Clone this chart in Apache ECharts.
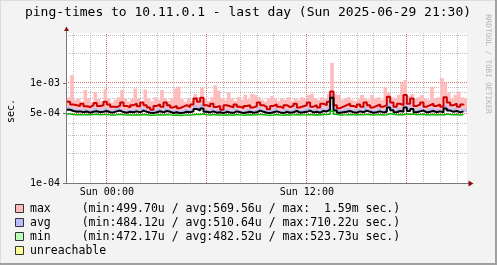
<!DOCTYPE html>
<html><head><meta charset="utf-8">
<script src="https://cdn.jsdelivr.net/npm/echarts@6/dist/echarts.min.js"></script>
<style>html,body{margin:0;padding:0;background:#f3f3f3}#c{width:497px;height:265px}</style>
</head><body><div id="c"></div><script>
const title = 'ping-times to 10.11.0.1 - last day (Sun 2025-06-29 21:30)';
const yAxisName = 'sec.';
const watermark = 'RRDTOOL / TOBI OETIKER';
// time of first sample (hours relative to Sun 00:00) and sample step (hours)
const startHour = -2.4;
const stepHours = 0.2;
// values in microseconds
const maxPeak = [
720,1200,680,700,650,850,700,640,810,690,
660,870,700,640,680,720,850,700,650,690,
880,700,650,860,700,660,720,680,850,700,
660,700,880,920,690,650,700,660,780,720,
900,700,660,720,950,840,700,680,800,700,
660,720,680,760,690,780,760,720,680,650,
700,740,690,660,700,680,720,660,700,680,
720,690,760,780,700,680,720,700,780,1590,
780,760,680,700,720,680,660,700,760,700,
680,760,700,720,680,910,800,720,700,760,
1000,1070,740,780,700,720,760,700,680,920,
700,720,1120,1000,800,700,760,820,720,700];
const maxLine = [
650,610,600,590,620,585,575,600,630,590,
600,650,610,580,575,595,640,590,570,600,
620,585,640,600,570,540,590,610,580,640,
600,570,590,560,580,600,575,610,700,650,
710,600,580,620,575,590,540,600,585,570,
610,580,560,590,600,570,585,640,600,575,
545,590,610,580,560,600,575,590,620,570,
585,600,640,580,600,570,620,600,650,820,
600,560,580,600,620,590,570,610,580,640,
600,570,590,610,580,600,730,640,580,620,
600,760,620,700,590,610,640,580,600,620,
590,610,580,720,640,600,620,580,610,600];
const avgHigh = [
580,560,550,555,540,550,535,545,565,540,
545,565,540,535,550,570,545,530,545,540,
555,535,570,550,530,525,540,560,535,565,
550,530,540,525,535,550,540,555,600,575,
620,550,535,560,535,545,525,550,535,530,
555,540,525,535,550,535,540,570,550,535,
530,540,560,535,525,550,535,540,565,535,
540,550,570,535,550,535,565,555,590,780,
570,535,540,550,565,540,535,555,540,575,
550,535,540,560,535,550,640,580,540,565,
550,640,565,600,540,555,570,535,550,565,
540,555,535,610,570,550,565,535,555,550];
const avgLine = [
540,525,515,520,510,518,505,515,522,510,
515,525,510,508,520,530,512,505,515,510,
520,508,530,515,505,500,510,522,508,525,
515,502,510,498,505,515,510,520,550,530,
555,515,508,520,505,510,500,515,508,502,
520,510,500,508,515,505,510,530,515,505,
500,510,520,508,500,515,505,510,525,505,
510,515,530,508,515,505,525,520,540,710,
530,505,510,515,525,510,505,520,510,530,
515,505,510,520,508,515,570,535,510,525,
515,570,525,550,510,520,530,508,515,525,
510,520,508,555,530,515,525,508,520,515];
const minLine = [
490,485,482,484,480,483,481,484,486,482,
483,485,480,479,482,486,481,478,480,479,
482,478,484,481,477,475,478,482,479,484,
480,476,479,474,477,480,478,482,488,485,
490,482,479,484,478,480,476,481,479,477,
483,480,476,479,482,478,480,486,482,478,
476,479,483,479,476,481,478,480,484,478,
480,482,485,479,482,478,484,483,488,523,
486,479,480,482,485,481,478,483,480,486,
482,478,480,484,479,482,495,487,480,485,
481,492,485,490,480,483,486,479,482,485,
479,483,478,490,485,481,484,478,483,480];
const yLabelTicks = [1e-4, 5e-4, 1e-3];
const yMinorGrid = [2e-4, 3e-4, 4e-4, 6e-4, 7e-4, 8e-4, 9e-4, 2e-3, 3e-3];
const yMajorGrid = [5e-4, 1e-3];
const xMinorGrid = [-2,-1,1,2,3,4,5,7,8,9,10,11,13,14,15,16,17,19,20,21];
const xMajorGrid = [0, 6, 12, 18];
const xLabelTicks = [0, 12];
const xLabelTexts = ['Sun 00:00', 'Sun 12:00'];
const legendNames = ['max', 'avg', 'min', 'unreachable'];
const legendStats = [
  '(min:499.70u / avg:569.56u / max:  1.59m sec.)',
  '(min:484.12u / avg:510.64u / max:710.22u sec.)',
  '(min:472.17u / avg:482.52u / max:523.73u sec.)',
  ''];

const legendColors = ['#ffbaba', '#babaff', '#baffba', '#ffff99'];
const US = 1e-6;
const tAt = (i) => startHour + i * stepHours;
const pts = (arr) => arr.map((v, i) => [tAt(i), v * US]);
const band = (lo, hi) => lo.map((v, i) => [tAt(i), v * US, hi[i] * US]);
const yFmt = (v) => {
  const e = Math.floor(Math.log10(v) + 1e-9);
  const m = Math.round(v / Math.pow(10, e));
  return m + 'e' + (e < 0 ? '-' : '+') + String(Math.abs(e)).padStart(2, '0');
};
const MONO = '"DejaVu Sans Mono", monospace';
const yMin = 1e-4, yMax = Math.pow(10, -2.5);
const xMin = -2.45, xMax = 21.61;
const grid = {left: 66, top: 33, width: 401, height: 150};
const MINOR = '#bcbcbc', MAJOR = '#e07070';

const chart = echarts.init(document.getElementById('c'), null, {renderer: 'canvas'});

const graphics = [
  {type: 'rect', shape: {x: 0, y: 0, width: 497, height: 1}, style: {fill: '#dcdcdc'}, silent: true},
  {type: 'rect', shape: {x: 0, y: 0, width: 1, height: 265}, style: {fill: '#dcdcdc'}, silent: true},
  {type: 'rect', shape: {x: 495, y: 0, width: 2, height: 265}, style: {fill: '#a0a0a0'}, silent: true},
  {type: 'rect', shape: {x: 0, y: 263, width: 497, height: 2}, style: {fill: '#a0a0a0'}, silent: true},
  {type: 'text', x: 248, y: 13, style: {text: title, font: '13px ' + MONO, fill: '#000', align: 'center', verticalAlign: 'middle'}},
  {type: 'text', x: 11, y: 111, rotation: Math.PI / 2, style: {text: yAxisName, font: '10px ' + MONO, fill: '#000', align: 'center', verticalAlign: 'middle'}},
  {type: 'text', x: 488, y: 64, rotation: -Math.PI / 2, style: {text: watermark, font: '7.5px ' + MONO, fill: '#b4b4b4', align: 'center', verticalAlign: 'middle'}},
  // axis arrows
  {type: 'line', shape: {x1: 66.5, y1: 33, x2: 66.5, y2: 30}, style: {stroke: '#777', lineWidth: 1}},
  {type: 'polygon', shape: {points: [[64, 31], [66.5, 26.5], [69, 31]]}, style: {fill: '#8b1010'}},
  {type: 'line', shape: {x1: 467, y1: 183.5, x2: 469, y2: 183.5}, style: {stroke: '#777', lineWidth: 1}},
  {type: 'polygon', shape: {points: [[468.5, 180.5], [473.5, 183.5], [468.5, 186.5]]}, style: {fill: '#8b1010'}}
];
legendNames.forEach((name, i) => {
  const cy = 209 + i * 14;
  graphics.push({type: 'rect', shape: {x: 15.5, y: cy - 4.5, width: 8, height: 8}, style: {fill: legendColors[i], stroke: '#333', lineWidth: 1}});
  graphics.push({type: 'text', x: 30, y: cy, style: {text: name, font: '11.5px ' + MONO, fill: '#000', align: 'left', verticalAlign: 'middle'}});
  if (legendStats[i]) graphics.push({type: 'text', x: 81.7, y: cy, style: {text: legendStats[i], font: '11.5px ' + MONO, fill: '#000', align: 'left', verticalAlign: 'middle'}});
});

// major grid lines drawn through the axes' own scales
const majorGridData = xMajorGrid.map((v) => [0, v]).concat(yMajorGrid.map((v) => [1, v]));
const majorGridSeries = {
  type: 'custom', name: 'major grid', data: majorGridData, silent: true, clip: true,
  encode: {x: [], y: []},
  renderItem: (params, api) => {
    const kind = api.value(0), v = api.value(1);
    let a, b;
    if (kind === 0) { a = api.coord([v, yMin]); b = api.coord([v, yMax]); }
    else { a = api.coord([xMin, v]); b = api.coord([xMax, v]); }
    const x1 = Math.round(a[0] - 0.5) + 0.5, x2 = Math.round(b[0] - 0.5) + 0.5;
    const y1 = Math.round(a[1] - 0.5) + 0.5, y2 = Math.round(b[1] - 0.5) + 0.5;
    return {type: 'line',
      shape: kind === 0 ? {x1: x1, y1: a[1], x2: x1, y2: b[1]} : {x1: a[0], y1: y1, x2: b[0], y2: y1},
      style: {stroke: MAJOR, lineWidth: 1, lineDash: [1, 1], fill: null}};
  }
};

const bandSeries = (name, data, color) => ({
  type: 'custom', name, data, silent: true, clip: true,
  encode: {x: 0, y: [1, 2]},
  renderItem: (params, api) => {
    const t = api.value(0), lo = api.value(1), hi = api.value(2);
    const a = api.coord([t, hi]);
    const b = api.coord([t + stepHours, lo]);
    return {type: 'rect', shape: {x: a[0], y: a[1], width: b[0] - a[0] + 0.3, height: b[1] - a[1]},
      style: {fill: color}};
  }
});
const lineBase = {type: 'line', step: 'end', showSymbol: false, symbol: 'none', silent: true, emphasis: {disabled: true}};

chart.setOption({
  animation: false,
  backgroundColor: '#f3f3f3',
  grid: Object.assign({show: true, backgroundColor: '#ffffff', borderWidth: 0}, grid),
  graphic: graphics,
  xAxis: [
    {type: 'value', min: xMin, max: xMax, position: 'bottom',
     axisLine: {show: true, onZero: false, lineStyle: {color: '#777', width: 1}},
     axisTick: {show: false, customValues: xMinorGrid},
     splitLine: {show: true, lineStyle: {color: MINOR, width: 1, type: [1, 1]}},
     axisLabel: {show: false}},
    {type: 'value', min: xMin, max: xMax, position: 'bottom',
     axisLine: {show: false}, axisTick: {show: false, customValues: xLabelTicks},
     splitLine: {show: false},
     axisLabel: {show: true, customValues: xLabelTicks, margin: 4,
       formatter: (v) => xLabelTexts[xLabelTicks.indexOf(Math.round(v))] || '',
       fontFamily: 'DejaVu Sans Mono', fontSize: 10, color: '#000'}}
  ],
  yAxis: [
    {type: 'log', logBase: 10, min: yMin, max: yMax, position: 'left',
     axisLine: {show: false}, axisTick: {show: false, customValues: yMinorGrid},
     splitLine: {show: true, lineStyle: {color: MINOR, width: 1, type: [1, 1]}},
     axisLabel: {show: false}},
    {type: 'log', logBase: 10, min: yMin, max: yMax, position: 'left',
     axisLine: {show: true, onZero: false, lineStyle: {color: '#777', width: 1}},
     axisTick: {show: true, customValues: yLabelTicks, length: 3, lineStyle: {color: '#777'}},
     splitLine: {show: false},
     axisLabel: {show: true, customValues: yLabelTicks, margin: 6, formatter: yFmt,
       fontFamily: 'DejaVu Sans Mono', fontSize: 10, color: '#000'}}
  ],
  series: [
    majorGridSeries,
    bandSeries('max band', band(avgHigh, maxPeak), '#ffbcbc'),
    bandSeries('avg band', band(avgLine, avgHigh), '#b8b8f2'),
    Object.assign({}, lineBase, {name: 'max', data: pts(maxLine), lineStyle: {color: '#cc0000', width: 2}}),
    Object.assign({}, lineBase, {name: 'avg', data: pts(avgLine), lineStyle: {color: '#000000', width: 2}}),
    Object.assign({}, lineBase, {name: 'min', data: pts(minLine), lineStyle: {color: '#00bb00', width: 1.5}})
  ]
});
</script></body></html>
